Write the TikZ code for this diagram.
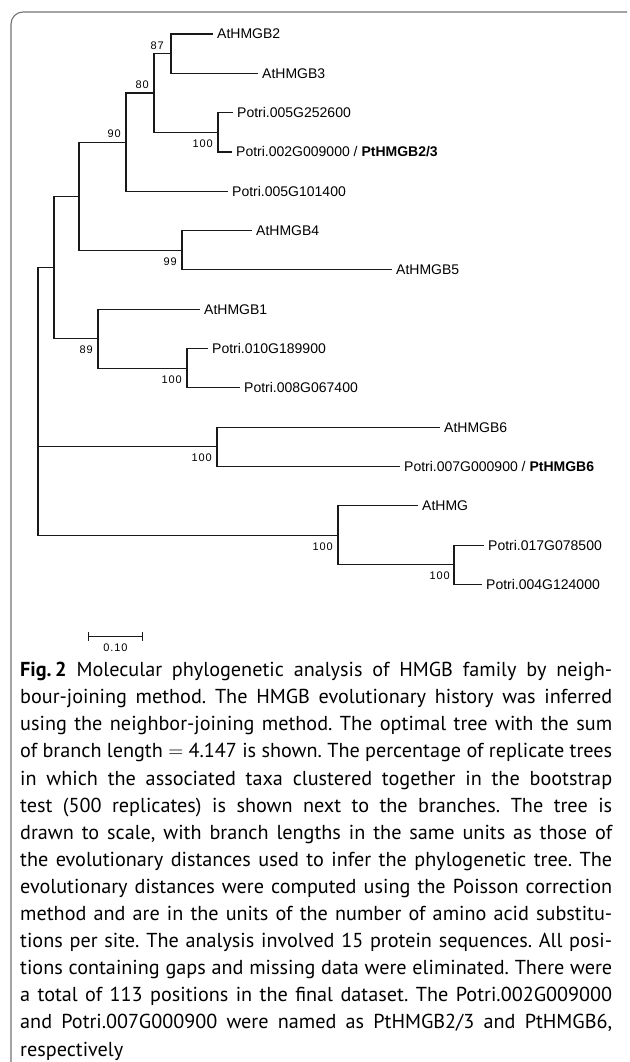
\documentclass[tikz,border=0pt]{standalone}
\usepackage{fontspec}
\setmainfont{PT Sans}
\newfontfamily\treefont{Liberation Sans}
\newfontfamily\bsfont[LetterSpace=8]{Liberation Sans}
\usetikzlibrary{positioning,arrows.meta}

\begin{document}
\begin{tikzpicture}[x=1pt,y=-1pt,
 lf/.style={anchor=west,inner xsep=4pt,inner ysep=0pt,text height=10pt,text depth=0pt,
 font=\treefont\fontsize{14}{16}\selectfont},
 bs/.style={inner sep=0pt,font=\bsfont\fontsize{11}{12}\selectfont},
 br/.style={line width=1.1pt,black!90},
 fr/.style={line width=1.1pt,black!55,rounded corners=12pt}]
\useasboundingbox (0,0) rectangle (629,1062);
\draw[fr] (11,1062) |- (627,12);
% leaves
\node[lf] (b2) at (213,34) {AtHMGB2};
\node[lf] (b3) at (258,73.3) {AtHMGB3};
\node[lf] (p2526) at (233,112.6) {Potri.005G252600};
\node[lf] (p0090) at (232,152) {Potri.002G009000 / \textbf{PtHMGB2/3}};
\node[lf] (p1014) at (228,191.3) {Potri.005G101400};
\node[lf] (b4) at (252,230.6) {AtHMGB4};
\node[lf] (b5) at (392,269.9) {AtHMGB5};
\node[lf] (b1) at (200,309.2) {AtHMGB1};
\node[lf] (p1899) at (208,348.6) {Potri.010G189900};
\node[lf] (p0674) at (240,387.9) {Potri.008G067400};
\node[lf] (b6) at (440,427.2) {AtHMGB6};
\node[lf] (p0009) at (400,466.5) {Potri.007G000900 / \textbf{PtHMGB6}};
\node[lf] (hmg) at (418,505.8) {AtHMG};
\node[lf] (p0785) at (484,545.2) {Potri.017G078500};
\node[lf] (p1240) at (482,584.5) {Potri.004G124000};
% inner nodes
\coordinate (n87) at (171,53.7);
\coordinate (n100a) at (218,132.3);
\coordinate (n80) at (154,93);
\coordinate (n90) at (126,142.1);
\coordinate (n99) at (182,250.3);
\coordinate (na) at (79,196.2);
\coordinate (n100b) at (187,368.3);
\coordinate (n89) at (98,338.7);
\coordinate (nb) at (54,267.5);
\coordinate (n100c) at (217,446.9);
\coordinate (n100e) at (454,564.9);
\coordinate (n100d) at (338,535.3);
\coordinate (root) at (38,401.4);
\draw[br] (n87) |- (b2.west); \draw[br] (n87) |- (b3.west);
\draw[br] (n100a) |- (p2526.west); \draw[br] (n100a) |- (p0090.west);
\draw[br] (n80) |- (n87); \draw[br] (n80) |- (n100a);
\draw[br] (n90) |- (n80); \draw[br] (n90) |- (p1014.west);
\draw[br] (n99) |- (b4.west); \draw[br] (n99) |- (b5.west);
\draw[br] (na) |- (n90); \draw[br] (na) |- (n99);
\draw[br] (n100b) |- (p1899.west); \draw[br] (n100b) |- (p0674.west);
\draw[br] (n89) |- (b1.west); \draw[br] (n89) |- (n100b);
\draw[br] (nb) |- (na); \draw[br] (nb) |- (n89);
\draw[br] (n100c) |- (b6.west); \draw[br] (n100c) |- (p0009.west);
\draw[br] (n100e) |- (p0785.west); \draw[br] (n100e) |- (p1240.west);
\draw[br] (n100d) |- (hmg.west); \draw[br] (n100d) |- (n100e);
\draw[br] (root) |- (nb); \draw[br] (root) |- (n100c); \draw[br] (root) |- (n100d);
% bootstrap values
\node[bs,above left=4pt and 7pt of n87] (t87) {87};
\node[bs,above left=4pt and 5pt of n80] (t80) {80};
\node[bs,above left=4pt and 5pt of n90] (t90) {90};
\node[bs,below left=7pt and 5pt of n100a] (t100a) {100};
\node[bs,below left=7pt and 5pt of n99] (t99) {99};
\node[bs,below left=7pt and 5pt of n89] (t89) {89};
\node[bs,below left=7pt and 5pt of n100b] (t100b) {100};
\node[bs,below left=7pt and 5pt of n100c] (t100c) {100};
\node[bs,below left=7pt and 5pt of n100d] (t100d) {100};
\node[bs,below left=7pt and 4pt of n100e] (t100e) {100};
% scale bar
\coordinate (s0) at (88,636); \coordinate (s1) at (143,636);
\coordinate (sm) at (115.5,636);
\draw[br,line width=1pt,{Bar[width=9pt]}-{Bar[width=9pt]}] (s0) -- (s1);
\node[bs,below=8pt of sm] (sc) {0.10};
% caption
\node[anchor=north west,inner sep=0pt,text width=592pt,align=justify,
 font=\fontsize{20.2}{27.1}\selectfont] (cap) at (20,662) {\hyphenpenalty=10000\frenchspacing
\textbf{Fig.\,2}\enspace Molecular phylogenetic analysis of HMGB family by neigh-\linebreak
bour-joining method. The HMGB evolutionary history was inferred\linebreak
using the neighbor-joining method. The optimal tree with the sum\linebreak
of branch length $=$ 4.147 is shown. The percentage of replicate trees\linebreak
in which the associated taxa clustered together in the bootstrap\linebreak
test (500 replicates) is shown next to the branches. The tree is\linebreak
drawn to scale, with branch lengths in the same units as those of\linebreak
the evolutionary distances used to infer the phylogenetic tree. The\linebreak
evolutionary distances were computed using the Poisson correction\linebreak
method and are in the units of the number of amino acid substitu-\linebreak
tions per site. The analysis involved 15 protein sequences. All posi-\linebreak
tions containing gaps and missing data were eliminated. There were\linebreak
a total of 113 positions in the final dataset. The Potri.002G009000\linebreak
and Potri.007G000900 were named as PtHMGB2/3 and PtHMGB6,\linebreak
respectively};
\end{tikzpicture}
\end{document}
